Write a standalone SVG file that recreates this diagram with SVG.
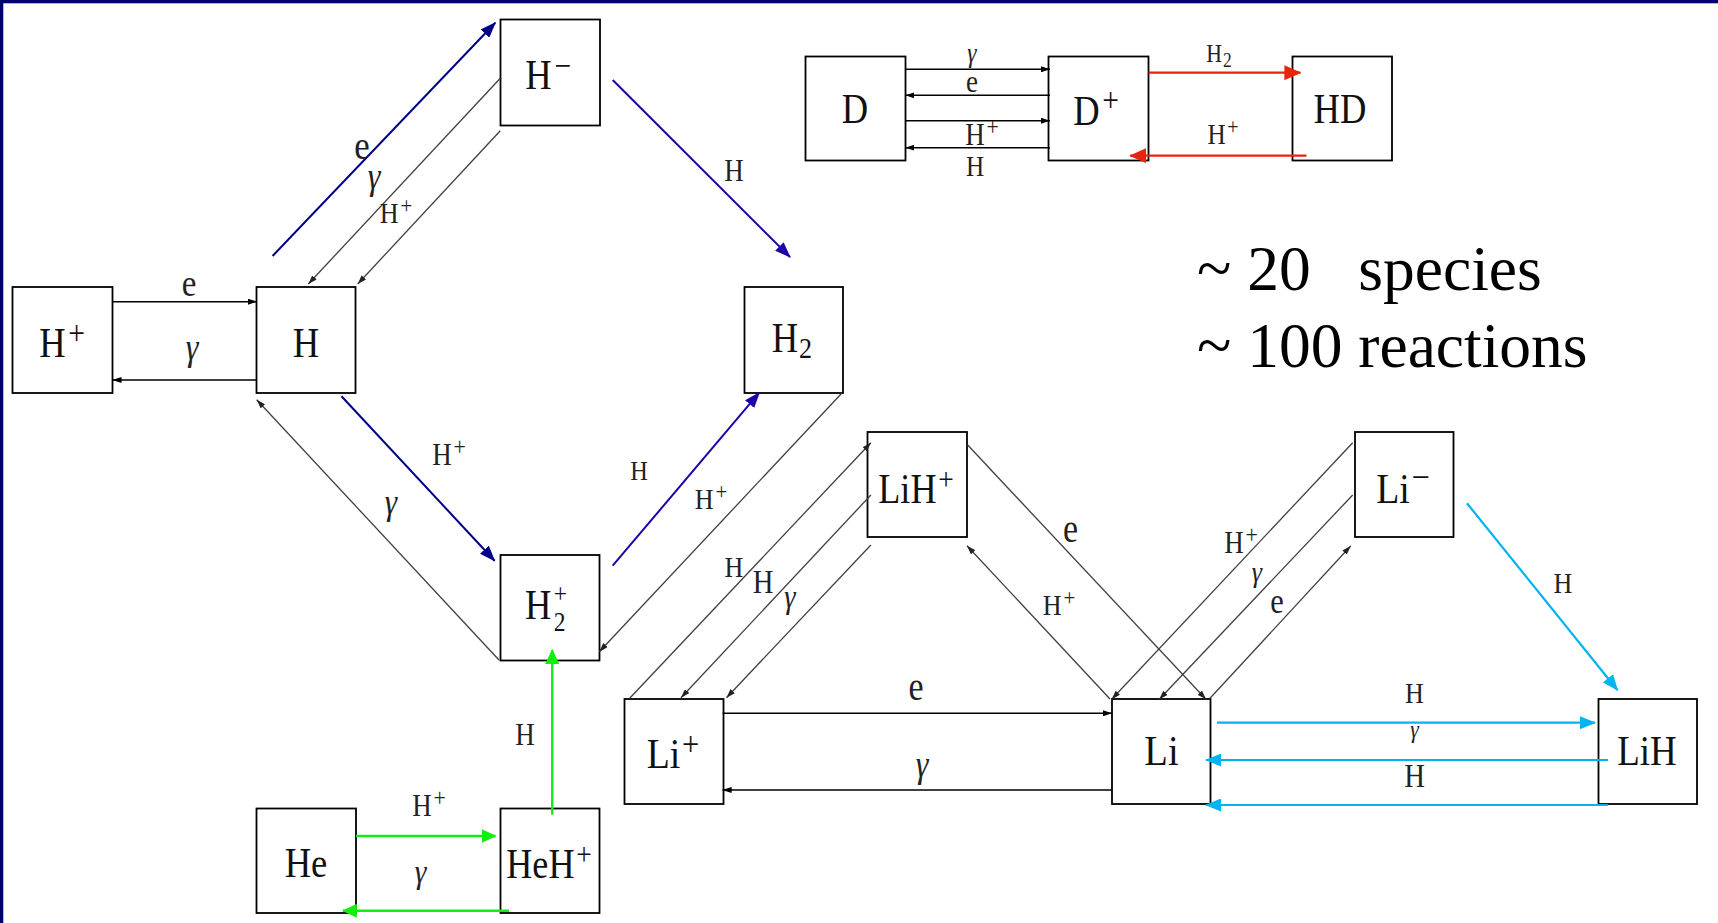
<svg xmlns="http://www.w3.org/2000/svg" width="1718" height="923" viewBox="0 0 1718 923">
<style>
  .box { fill: #fff; stroke: #000; stroke-width: 1.8; }
  .nl { font-family: "Liberation Serif", "Times New Roman", serif; font-size: 42px; fill: #111; text-anchor: middle; }
  .el { font-family: "Liberation Serif", "Times New Roman", serif; fill: #222; text-anchor: middle; }
  .g { font-style: italic; }
  .big { font-family: "Liberation Serif", "Times New Roman", serif; font-size: 63.5px; fill: #000; white-space: pre; }
  .navy { stroke: #000088; stroke-width: 2; fill: none; marker-end: url(#a-navy); }
  .purp { stroke: #2200a8; stroke-width: 2; fill: none; marker-end: url(#a-purp); }
  .gray { stroke: #404040; stroke-width: 1.3; fill: none; marker-end: url(#a-gray); }
  .blk { stroke: #000; stroke-width: 1.6; fill: none; marker-end: url(#a-blk); }
  .red { stroke: #e8230e; stroke-width: 2.2; fill: none; marker-end: url(#a-red); }
  .grn { stroke: #11ee11; stroke-width: 2.4; fill: none; marker-end: url(#a-grn); }
  .cyn { stroke: #00b4f0; stroke-width: 2.2; fill: none; marker-end: url(#a-cyn); }
</style>
<defs>
  <marker id="a-navy" viewBox="0 0 16 12" refX="15" refY="6" markerWidth="16" markerHeight="12" markerUnits="userSpaceOnUse" orient="auto"><path d="M0,0 L16,6 L0,12 z" fill="#000088"/></marker>
  <marker id="a-purp" viewBox="0 0 16 12" refX="15" refY="6" markerWidth="16" markerHeight="12" markerUnits="userSpaceOnUse" orient="auto"><path d="M0,0 L16,6 L0,12 z" fill="#2200a8"/></marker>
  <marker id="a-gray" viewBox="0 0 9 6" refX="9" refY="3" markerWidth="9" markerHeight="6" markerUnits="userSpaceOnUse" orient="auto"><path d="M0,0 L9,3 L0,6 z" fill="#222"/></marker>
  <marker id="a-blk" viewBox="0 0 9 6" refX="9" refY="3" markerWidth="9" markerHeight="6" markerUnits="userSpaceOnUse" orient="auto"><path d="M0,0 L9,3 L0,6 z" fill="#000"/></marker>
  <marker id="a-red" viewBox="0 0 17 15" refX="16" refY="7.5" markerWidth="17" markerHeight="15" markerUnits="userSpaceOnUse" orient="auto"><path d="M0,0 L17,7.5 L0,15 z" fill="#e8230e"/></marker>
  <marker id="a-grn" viewBox="0 0 15 14" refX="14" refY="7" markerWidth="15" markerHeight="14" markerUnits="userSpaceOnUse" orient="auto"><path d="M0,0 L15,7 L0,14 z" fill="#11ee11"/></marker>
  <marker id="a-cyn" viewBox="0 0 16 13" refX="15" refY="6.5" markerWidth="16" markerHeight="13" markerUnits="userSpaceOnUse" orient="auto"><path d="M0,0 L16,6.5 L0,13 z" fill="#00b4f0"/></marker>
</defs>
<rect x="0" y="0" width="1718" height="923" fill="#fff"/>
<rect x="0" y="0" width="1718" height="3.3" fill="#000070"/>
<rect x="0" y="0" width="3.3" height="923" fill="#000070"/>

<g id="node-Hp"><rect class="box" x="12.5" y="287" width="100" height="106"/><text class="nl" transform="translate(62 357) scale(0.87 1)">H<tspan dx="3" dy="-13" font-size="34">+</tspan></text></g>
<g id="node-H"><rect class="box" x="256.5" y="287" width="99" height="106"/><text class="nl" transform="translate(306 357) scale(0.87 1)">H</text></g>
<g id="node-Hm"><rect class="box" x="500.5" y="19.5" width="99.5" height="106"/><text class="nl" transform="translate(548 89) scale(0.87 1)">H<tspan dx="3" dy="-12" font-size="34">−</tspan></text></g>
<g id="node-H2"><rect class="box" x="744.5" y="287" width="98.5" height="106"/><text class="nl" transform="translate(792 352) scale(0.87 1)">H<tspan dx="1" dy="6" font-size="30">2</tspan></text></g>
<g id="node-H2p"><rect class="box" x="500.5" y="555" width="99" height="105.5"/><text class="nl" style="text-anchor:start" transform="translate(525 619) scale(0.87 1)">H<tspan x="33" dy="-16" font-size="27">+</tspan><tspan x="33" dy="28" font-size="27">2</tspan></text></g>
<g id="node-He"><rect class="box" x="256.5" y="808.5" width="99.5" height="104.5"/><text class="nl" transform="translate(306 877) scale(0.87 1)">He</text></g>
<g id="node-HeHp"><rect class="box" x="500.5" y="808.5" width="99" height="104.5"/><text class="nl" transform="translate(549 878) scale(0.86 1)">HeH<tspan dx="2" dy="-13" font-size="32">+</tspan></text></g>
<g id="node-Lip"><rect class="box" x="624.5" y="699" width="99" height="105"/><text class="nl" transform="translate(673 768) scale(0.9 1)">Li<tspan dx="2" dy="-13" font-size="34">+</tspan></text></g>
<g id="node-LiHp"><rect class="box" x="867.5" y="432" width="99.5" height="105"/><text class="nl" transform="translate(916 503) scale(0.86 1)">LiH<tspan dx="2" dy="-13" font-size="32">+</tspan></text></g>
<g id="node-Li"><rect class="box" x="1112" y="699" width="98.5" height="105"/><text class="nl" transform="translate(1161.5 765) scale(0.92 1)">Li</text></g>
<g id="node-Lim"><rect class="box" x="1355" y="432" width="98.5" height="105"/><text class="nl" transform="translate(1403 503) scale(0.9 1)">Li<tspan dx="2" dy="-14" font-size="36">−</tspan></text></g>
<g id="node-LiH"><rect class="box" x="1598.5" y="699" width="98.5" height="105"/><text class="nl" transform="translate(1647 765) scale(0.88 1)">LiH</text></g>
<g id="node-D"><rect class="box" x="805.5" y="56.5" width="100" height="104"/><text class="nl" transform="translate(855 123) scale(0.87 1)">D</text></g>
<g id="node-Dp"><rect class="box" x="1048.5" y="56.5" width="100" height="104"/><text class="nl" transform="translate(1096 125) scale(0.87 1)">D<tspan dx="3" dy="-14" font-size="34">+</tspan></text></g>
<g id="node-HD"><rect class="box" x="1292.5" y="56.5" width="99.5" height="104"/><text class="nl" transform="translate(1340 123) scale(0.87 1)">HD</text></g>

<g id="connectors">
  <line class="navy" x1="272.6" y1="256" x2="495.3" y2="22.7"/>
  <line class="purp" x1="612.7" y1="80" x2="790" y2="257"/>
  <line class="navy" x1="341.5" y1="396.3" x2="494.6" y2="560.7"/>
  <line class="purp" x1="612.7" y1="565.7" x2="759.3" y2="392.7"/>
  <line class="gray" x1="500.3" y1="78.3" x2="308.3" y2="284"/>
  <line class="gray" x1="500.3" y1="130.7" x2="357.7" y2="284"/>
  <line class="gray" x1="499" y1="660" x2="256.7" y2="399.7"/>
  <line class="gray" x1="842" y1="393" x2="599.3" y2="651.7"/>
  <line class="gray" x1="629.7" y1="698.3" x2="870.9" y2="442.7"/>
  <line class="gray" x1="870.9" y1="495" x2="681" y2="697.7"/>
  <line class="gray" x1="870.9" y1="545" x2="726.5" y2="697.7"/>
  <line class="gray" x1="967.7" y1="445" x2="1206" y2="699.3"/>
  <line class="gray" x1="1110" y1="699" x2="967" y2="545.7"/>
  <line class="gray" x1="1352.7" y1="442.7" x2="1111.7" y2="699.3"/>
  <line class="gray" x1="1352.7" y1="495" x2="1159.3" y2="699.3"/>
  <line class="gray" x1="1210" y1="698.3" x2="1350.7" y2="546"/>
  <line class="blk" x1="112.5" y1="301.7" x2="257" y2="301.7"/>
  <line class="blk" x1="257" y1="380" x2="112.5" y2="380"/>
  <line class="blk" x1="905.3" y1="69.3" x2="1050" y2="69.3"/>
  <line class="blk" x1="1050" y1="95.3" x2="905.3" y2="95.3"/>
  <line class="blk" x1="905.3" y1="120.7" x2="1050" y2="120.7"/>
  <line class="blk" x1="1050" y1="147.7" x2="905.3" y2="147.7"/>
  <line class="blk" x1="722.6" y1="713.3" x2="1112" y2="713.3"/>
  <line class="blk" x1="1112" y1="790" x2="722.6" y2="790"/>
  <line class="red" x1="1148.6" y1="72.7" x2="1300.4" y2="72.7"/>
  <line class="red" x1="1306.5" y1="155.7" x2="1130.2" y2="155.7"/>
  <line class="grn" x1="552.2" y1="814.6" x2="552.2" y2="650"/>
  <line class="grn" x1="356" y1="836" x2="495.5" y2="836"/>
  <line class="grn" x1="509" y1="910.8" x2="342.9" y2="910.8"/>
  <line class="cyn" x1="1467" y1="503.3" x2="1617.4" y2="690"/>
  <line class="cyn" x1="1217" y1="722.7" x2="1595" y2="722.7"/>
  <line class="cyn" x1="1608" y1="760" x2="1206" y2="760"/>
  <line class="cyn" x1="1608" y1="805" x2="1206" y2="805"/>

  <g id="edge-labels">
    <text class="el" font-size="38" transform="translate(189 296) scale(0.87 1)">e</text>
    <text class="el g" font-size="37" transform="translate(192 360) scale(0.87 1)">γ</text>
    <text class="el" font-size="40" transform="translate(362 159) scale(0.87 1)">e</text>
    <text class="el g" font-size="37" transform="translate(374 189) scale(0.87 1)">γ</text>
    <text class="el" font-size="30" transform="translate(396 223) scale(0.87 1)">H<tspan dx="2" dy="-10" font-size="24">+</tspan></text>
    <text class="el" font-size="31" transform="translate(734 181) scale(0.87 1)">H</text>
    <text class="el" font-size="31" transform="translate(449 465) scale(0.87 1)">H<tspan dx="2" dy="-10" font-size="25">+</tspan></text>
    <text class="el g" font-size="36" transform="translate(391 514) scale(0.87 1)">γ</text>
    <text class="el" font-size="28" transform="translate(639 480) scale(0.87 1)">H</text>
    <text class="el" font-size="30" transform="translate(711 509) scale(0.87 1)">H<tspan dx="2" dy="-10" font-size="24">+</tspan></text>
    <text class="el" font-size="31" transform="translate(525 745) scale(0.87 1)">H</text>
    <text class="el" font-size="31" transform="translate(429 816) scale(0.87 1)">H<tspan dx="2" dy="-10" font-size="25">+</tspan></text>
    <text class="el g" font-size="34" transform="translate(420.5 883) scale(0.87 1)">γ</text>
    <text class="el g" font-size="27" transform="translate(972 62) scale(0.87 1)">γ</text>
    <text class="el" font-size="31" transform="translate(972 92) scale(0.87 1)">e</text>
    <text class="el" font-size="31" transform="translate(982 145) scale(0.87 1)">H<tspan dx="2" dy="-10" font-size="25">+</tspan></text>
    <text class="el" font-size="29" transform="translate(975 176) scale(0.87 1)">H</text>
    <text class="el" font-size="25" transform="translate(1219 62) scale(0.87 1)">H<tspan dx="1" dy="5" font-size="20">2</tspan></text>
    <text class="el" font-size="29" transform="translate(1223 144) scale(0.87 1)">H<tspan dx="2" dy="-10" font-size="23">+</tspan></text>
    <text class="el" font-size="30" transform="translate(734 577) scale(0.87 1)">H</text>
    <text class="el" font-size="33" transform="translate(763 593) scale(0.87 1)">H</text>
    <text class="el g" font-size="33" transform="translate(790 608) scale(0.87 1)">γ</text>
    <text class="el" font-size="40" transform="translate(1070.5 542) scale(0.85 1)">e</text>
    <text class="el" font-size="30" transform="translate(1059 615) scale(0.87 1)">H<tspan dx="2" dy="-10" font-size="24">+</tspan></text>
    <text class="el" font-size="40" transform="translate(916 700) scale(0.85 1)">e</text>
    <text class="el g" font-size="37" transform="translate(922 777) scale(0.87 1)">γ</text>
    <text class="el" font-size="31" transform="translate(1241 553) scale(0.87 1)">H<tspan dx="2" dy="-10" font-size="25">+</tspan></text>
    <text class="el g" font-size="30" transform="translate(1257 582) scale(0.87 1)">γ</text>
    <text class="el" font-size="35" transform="translate(1277 613) scale(0.87 1)">e</text>
    <text class="el" font-size="30" transform="translate(1563 593) scale(0.87 1)">H</text>
    <text class="el" font-size="30" transform="translate(1414.5 703) scale(0.87 1)">H</text>
    <text class="el g" font-size="25" transform="translate(1414.5 738) scale(0.87 1)">γ</text>
    <text class="el" font-size="33" transform="translate(1414.5 787) scale(0.87 1)">H</text>
  </g>
</g>

<g id="summary">
  <text class="big" x="1197" y="290" xml:space="preserve">~ 20   species</text>
  <text class="big" x="1197" y="367">~ 100 reactions</text>
</g>
</svg>
